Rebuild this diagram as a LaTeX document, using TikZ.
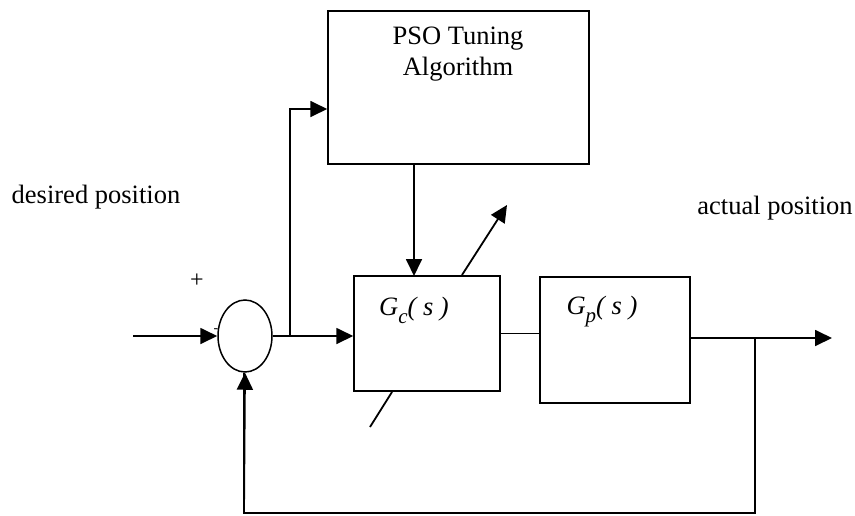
\documentclass[tikz,border=0pt]{standalone}
\usepackage{fontspec}
\setmainfont{Liberation Serif}
\usetikzlibrary{arrows.meta,shapes.geometric}
\newcommand{\subsc}[1]{\raisebox{-0.3em}{\fontsize{21}{21}\selectfont #1}}
\begin{document}
\begin{tikzpicture}[x=1pt,y=-1pt,
  blockbox/.style={draw,line width=1.5pt,rectangle,inner sep=0pt},
  lbl/.style={font=\fontsize{26.5}{31}\selectfont,inner sep=0pt},
  sig/.style={line width=1.8pt,-{Triangle[length=17pt,width=16pt]}},
  wire/.style={line width=1.8pt}]
\useasboundingbox (0,0) rectangle (855,515);
% blocks
\node[blockbox,minimum width=261pt,minimum height=153pt] (pso) at (458.5,87.5) {};
\node[lbl,align=center] (psot) at (458,54) {PSO Tuning\\Algorithm};
\node[blockbox,minimum width=146pt,minimum height=115pt] (gc) at (427,333.5) {};
\node[lbl] (gct) at (414,310) {\itshape G\subsc{c}( s )};
\node[blockbox,minimum width=150pt,minimum height=126pt] (gp) at (615,340) {};
\node[lbl] (gpt) at (602,312) {\itshape G\subsc{p}( s )};
\node[draw,ellipse,line width=1.5pt,minimum width=54pt,minimum height=72pt,inner sep=0pt] (sum) at (245,336) {};
% labels
\node[lbl] (des) at (96,197) {desired position};
\node[lbl] (act) at (775,208) {actual position};
\node[font=\fontsize{24}{26}\selectfont,inner sep=0pt] (plus) at (197,281) {+};
\node[font=\fontsize{14}{16}\selectfont,inner sep=0pt] (minus) at (216,331) {-};
% coordinates
\coordinate (in) at (133,336);
\coordinate (br) at (290,336);
\coordinate (brt) at (290,109);
\coordinate (out) at (832,338);
\coordinate (fb) at (755,338);
\coordinate (fbr) at (755,513);
\coordinate (fbl) at (244,513);
\coordinate (psob) at (414,164);
\coordinate (gct2) at (414,276);
\coordinate (da) at (462,275);
\coordinate (db) at (507,205);
\coordinate (dc) at (392,392);
\coordinate (dd) at (370,427);
% connectors
\draw[sig] (in) -- (sum.west);
\draw[sig] (sum.east) -- (sum.east -| gc.west);
\draw[sig] (br) -- (brt) -- (brt -| pso.west);
\draw[sig] (psob) -- (gct2);
\draw[line width=1pt] (gc.east) -- (gc.east -| gp.west);
\draw[sig] (gp.east |- out) -- (out);
\draw[wire] (fb) -- (fbr) -- (fbl) -- (fbl |- sum.south);
\draw[sig] (fbl) -- (sum.south);
\draw[sig] (da) -- (db);
\draw[wire] (dc) -- (dd);
\end{tikzpicture}
\end{document}
